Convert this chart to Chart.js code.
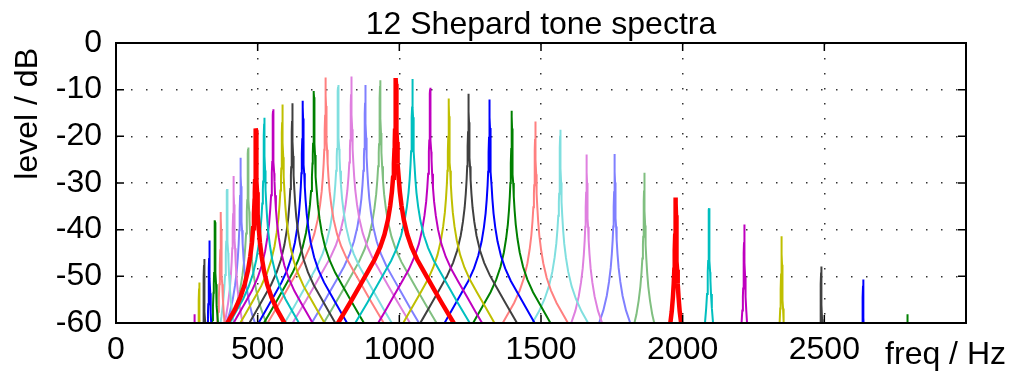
<!DOCTYPE html>
<html>
<head>
<meta charset="utf-8">
<style>
  html, body { margin: 0; padding: 0; background: #fff; }
  #wrap { width: 1009px; height: 378px; }
</style>
</head>
<body>
<div id="wrap"><canvas id="chart"></canvas></div>
<script src="https://cdn.jsdelivr.net/npm/chart.js@4/dist/chart.umd.min.js"></script>
<script>
// one line colour per tone (B .. A#)
const toneNames = ['B', 'C', 'C#', 'D', 'D#', 'E', 'F', 'F#', 'G', 'G#', 'A', 'A#'];
const toneColors = ['#ff0000', '#00bfbf', '#bf00bf', '#bfbf00', '#404040', '#0000ff',
                    '#008000', '#ff8080', '#80dfdf', '#df80df', '#8080ff', '#80bf80'];

// partial frequencies (Hz) and peak levels (dB), per tone
const peakFreqs = [
    [493.9, 987.8, 1975.5],
    [523.3, 1046.5, 2093.0],
    [277.2, 554.4, 1108.7, 2217.5],
    [293.7, 587.3, 1174.7, 2349.3],
    [311.1, 622.3, 1244.5, 2489.0],
    [329.6, 659.3, 1318.5, 2637.0],
    [349.2, 698.5, 1396.9, 2793.8],
    [370.0, 740.0, 1480.0],
    [392.0, 784.0, 1568.0],
    [415.3, 830.6, 1661.2],
    [440.0, 880.0, 1760.0],
    [466.2, 932.3, 1864.7]
];
const peakLevels = [
    [-18.3, -7.5, -33.1],
    [-16.0, -7.7, -35.4],
    [-58.1, -14.2, -9.6, -38.9],
    [-51.3, -13.2, -11.9, -41.4],
    [-46.3, -12.9, -10.9, -47.9],
    [-42.3, -12.4, -12.1, -50.7],
    [-38.0, -10.3, -14.5, -58.1],
    [-36.2, -7.4, -16.8],
    [-31.3, -9.0, -18.6],
    [-28.5, -7.2, -23.9],
    [-24.6, -9.0, -23.8],
    [-22.4, -8.0, -27.8]
];

const skirtHz = [0, 0.25, 0.5, 1, 1.5, 2, 3, 4, 5, 7, 10, 14, 20, 28, 40, 55, 75, 100, 130, 160, 205, 250, 300, 340];
const skirtDb = [0, 0.4, 1.3, 3.8, 6.1, 8.2, 11.3, 13.7, 15.5, 18.4, 21.4, 24.4, 27.4, 30.4, 33.5, 36.2, 38.9, 41.6, 44.8, 48, 52.6, 57.2, 62.3, 66.4];

const xTicks = [0, 500, 1000, 1500, 2000, 2500, 3000];
const yTicks = [0, -10, -20, -30, -40, -50, -60];

const FONT = '"Liberation Sans", Arial, Helvetica, sans-serif';

function toneData(t) {
    let pts = [];
    peakFreqs[t].forEach((f, k) => {
        let lvl = peakLevels[t][k];
        if (k > 0) pts.push({ x: f - 400, y: null });
        for (let i = skirtHz.length - 1; i > 0; i--) pts.push({ x: f - skirtHz[i], y: lvl - skirtDb[i] });
        for (let i = 0; i < skirtHz.length; i++) pts.push({ x: f + skirtHz[i], y: lvl - skirtDb[i] });
    });
    return pts;
}

const datasets = toneNames.map((name, t) => ({
    label: name,
    data: toneData(t),
    borderColor: toneColors[t],
    borderWidth: t === 0 ? 4.5 : 2,
    pointRadius: 0,
    tension: 0,
    fill: false
}));

// box, inward ticks and the texts
const framePlugin = {
    id: 'frame',
    afterDraw(chart) {
        const { ctx, chartArea: a, scales: { x, y } } = chart;
        ctx.save();
        ctx.strokeStyle = '#000';
        ctx.lineWidth = 1.5;
        ctx.beginPath();
        xTicks.forEach(v => {
            let px = x.getPixelForValue(v);
            ctx.moveTo(px, a.bottom); ctx.lineTo(px, a.bottom - 8);
            ctx.moveTo(px, a.top); ctx.lineTo(px, a.top + 8);
        });
        yTicks.forEach(v => {
            let py = y.getPixelForValue(v);
            ctx.moveTo(a.left, py); ctx.lineTo(a.left + 8, py);
            ctx.moveTo(a.right, py); ctx.lineTo(a.right - 8, py);
        });
        ctx.stroke();
        ctx.lineWidth = 2;
        ctx.strokeRect(a.left, a.top, a.width, a.height);

        ctx.fillStyle = '#000';
        ctx.font = '32px ' + FONT;
        ctx.textBaseline = 'alphabetic';
        ctx.textAlign = 'center';
        ctx.fillText('12 Shepard tone spectra', (a.left + a.right) / 2, 34);
        ctx.textAlign = 'right';
        ctx.fillText('freq / Hz', 1006, 364);
        ctx.translate(37, a.top);
        ctx.rotate(-Math.PI / 2);
        ctx.fillText('level / dB', -5, 0);
        ctx.restore();
    }
};

const ctx = document.getElementById('chart').getContext('2d');
new Chart(ctx, {
    type: 'line',
    data: { datasets: datasets },
    plugins: [framePlugin],
    options: {
        responsive: true,
        maintainAspectRatio: false,
        animation: false,
        layout: { padding: { top: 43, right: 43, left: 0, bottom: 0 } },
        plugins: { legend: { display: false }, tooltip: { enabled: false }, title: { display: false } },
        scales: {
            x: {
                type: 'linear',
                min: 0,
                max: 3000,
                z: 1,
                afterFit: s => { s.height = 55; },
                afterBuildTicks: s => { s.ticks = xTicks.map(v => ({ value: v })); },
                ticks: {
                    padding: 8,
                    color: '#000',
                    maxRotation: 0,
                    font: { size: 32, family: FONT },
                    callback: v => (v === 3000 ? '' : String(v))
                },
                grid: { color: '#333', lineWidth: 1.5, drawTicks: false },
                border: { display: false, dash: [1.5, 13.5] }
            },
            y: {
                type: 'linear',
                min: -60,
                max: 0,
                z: 1,
                afterFit: s => { s.width = 116; },
                afterBuildTicks: s => { s.ticks = yTicks.map(v => ({ value: v })); },
                ticks: {
                    padding: 14,
                    color: '#000',
                    font: { size: 32, family: FONT },
                    callback: v => String(v)
                },
                grid: { color: '#333', lineWidth: 1.5, drawTicks: false },
                border: { display: false, dash: [1.5, 13.5] }
            }
        }
    }
});
</script>
</body>
</html>
